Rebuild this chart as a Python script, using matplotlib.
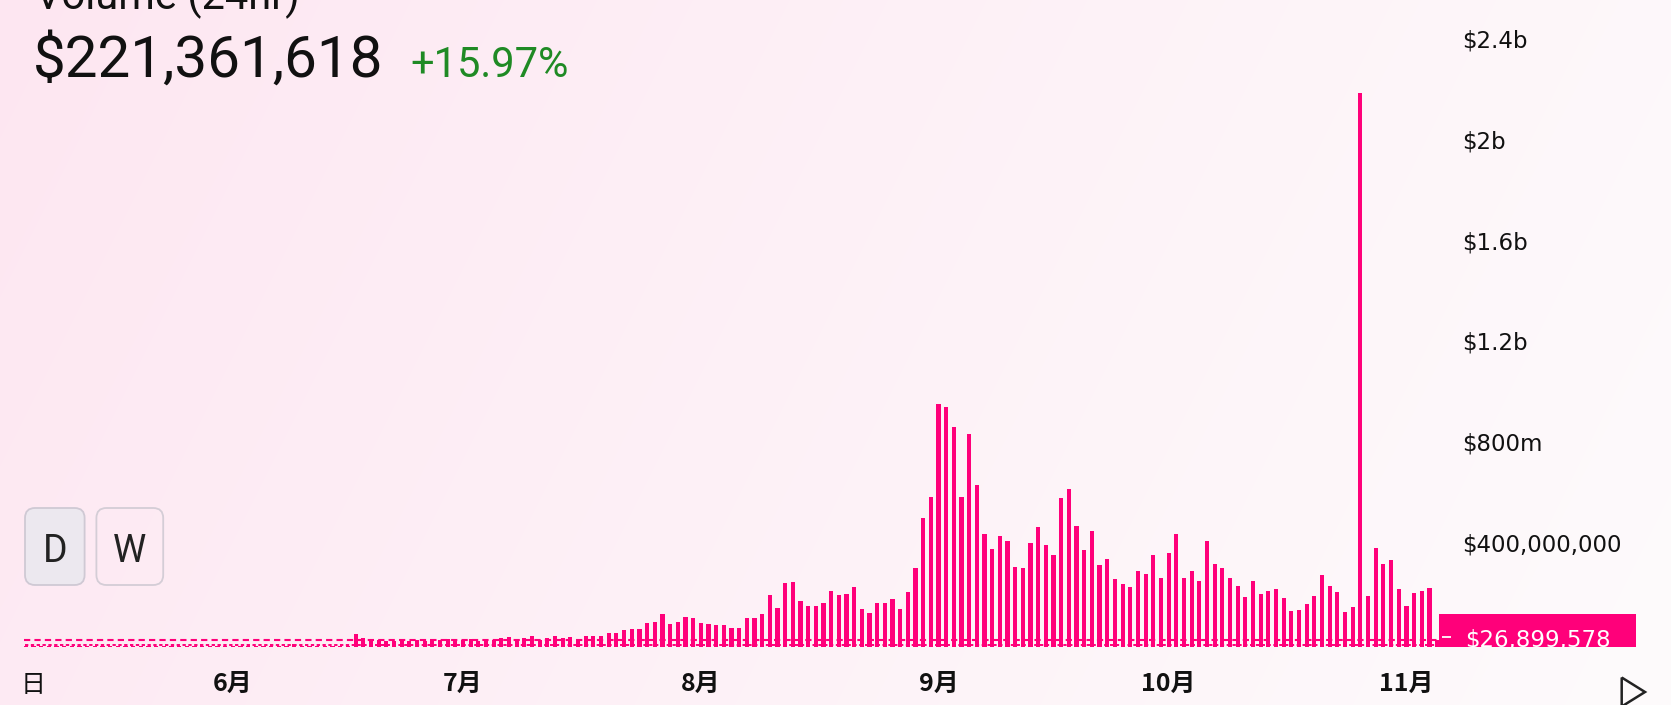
import numpy as np
import pandas as pd
import matplotlib
matplotlib.use("Agg")
import matplotlib.pyplot as plt
import matplotlib.dates as mdates
import matplotlib.transforms as mtransforms
from matplotlib.patches import FancyBboxPatch, Rectangle, Polygon

# ---------------- data (values in millions of USD) ----------------
start_date = "2023-05-05"
vol_may05_jun16 = [3, 2, 3, 3, 2, 3, 2, 3, 2, 3, 3, 2, 3, 3, 2, 3, 2, 3, 3, 2,
                   3, 2, 3, 3, 2, 3, 2,
                   3, 2, 3, 3, 2, 3, 2, 3, 8, 3, 2, 3, 3, 2, 3, 3]
vol_jun17_jul10 = [50, 33, 22, 25, 20, 22, 28, 20, 24, 22, 28, 25, 30, 22,
                   25, 28, 22, 30, 26, 32, 38, 30, 35, 40]
vol_jul11_jul31 = [26, 32, 42, 35, 38, 28, 43, 43, 43, 52, 52, 65, 68, 68,
                   92, 98, 129, 90, 98, 118, 114]
vol_aug = [94, 88, 84, 84, 72, 72, 114, 114, 129, 204, 154, 251, 255, 181,
           161, 161, 174, 220, 206, 210, 235, 149, 134, 174, 174, 190, 150,
           216, 310, 511, 595]
vol_sep = [963, 950, 873, 592, 843, 642, 447, 388, 439, 418, 317, 312, 413,
           474, 405, 365, 590, 626, 479, 384, 459, 324, 348, 267, 249, 238,
           298, 288, 364, 272]
vol_oct = [373, 448, 272, 298, 259, 419, 329, 313, 272, 242, 197, 262, 208,
           222, 228, 192, 142, 147, 167, 202, 283, 242, 217, 138, 157, 2198,
           202, 393, 329, 343, 228]
vol_nov = [161, 213, 220, 231, 26.899578]

current_value = 26.899578
current_label = "$26,899,578"
headline_value = "$221,361,618"
headline_change = "+15.97%"
title_text = "Volume (24hr)"

ytick_values = [400, 800, 1200, 1600, 2000, 2400]
ytick_labels = ["$400,000,000", "$800m", "$1.2b", "$1.6b", "$2b", "$2.4b"]

xtick_dates = ["2023-05-06", "2023-06-01", "2023-07-01", "2023-08-01",
               "2023-09-01", "2023-10-01", "2023-11-01"]
xtick_labels = ["日", "6月", "7月", "8月", "9月", "10月", "11月"]

volumes = (vol_may05_jun16 + vol_jun17_jul10 + vol_jul11_jul31 + vol_aug
           + vol_sep + vol_oct + vol_nov)
dates = pd.date_range(start_date, periods=len(volumes), freq="D")

# ---------------- style ----------------
W, H, DPI = 1671, 705, 100
PINK = "#FF007A"
PX_PER_DAY = 7.67
FIRST_BAR_PX = 25.8
ZERO_PX = 646.5           # y pixel (from top) of value 0
PX_PER_M = 0.2517         # pixels per million

fig = plt.figure(figsize=(W / DPI, H / DPI), dpi=DPI)

# background gradient
bg = fig.add_axes([0, 0, 1, 1], zorder=0)
yy, xx = np.mgrid[0:H, 0:W]
t = np.clip((xx + 0.5 * yy) / (W + 0.5 * H), 0, 1) ** 0.9
c0 = np.array([253, 230, 241]) / 255.0
c1 = np.array([254, 251, 252]) / 255.0
img = c0[None, None, :] * (1 - t[..., None]) + c1[None, None, :] * t[..., None]
bg.imshow(img, extent=[0, W, H, 0], aspect="auto", interpolation="bilinear")
bg.set_xlim(0, W)
bg.set_ylim(H, 0)
bg.axis("off")

# main chart axes
axes_right_px = 1450
ax = fig.add_axes([0, (H - ZERO_PX) / H, axes_right_px / W, ZERO_PX / H], zorder=1)
ax.patch.set_alpha(0)

xnum = mdates.date2num(dates)
ax.bar(xnum, volumes, width=0.55, color=PINK, linewidth=0, zorder=2)

# current value dashed line
ax.hlines(current_value, xnum[0] - 0.25, xnum[-1] + 0.5, colors=PINK,
          linewidth=1.5, linestyles=(0, (3, 2)), zorder=3)
# baseline dashed line
ax.hlines(5, xnum[0] - 0.1, xnum[-1] + 0.2, colors=PINK,
          linewidth=1.4, linestyles=(0, (1.7, 1.3)), zorder=3)

ax.set_xlim(xnum[0] - FIRST_BAR_PX / PX_PER_DAY,
            xnum[0] + (axes_right_px - FIRST_BAR_PX) / PX_PER_DAY)
ax.set_ylim(0, ZERO_PX / PX_PER_M)

for s in ax.spines.values():
    s.set_visible(False)

ax.yaxis.tick_right()
ax.set_yticks(ytick_values, ytick_labels)
ax.tick_params(axis="y", length=0, pad=12 * 72 / DPI, labelsize=16.5,
               labelcolor="#111111")
shift_up = mtransforms.ScaledTranslation(0, 3.5 / DPI, fig.dpi_scale_trans)
for tick in ax.yaxis.get_major_ticks():
    tick.label2.set_fontfamily("DejaVu Sans")
    tick.label2.set_transform(tick.label2.get_transform() + shift_up)

ax.set_xticks(mdates.date2num(pd.to_datetime(xtick_dates)), xtick_labels)
ax.tick_params(axis="x", length=0, pad=18.5, labelsize=18, labelcolor="#111111")
for i, lab in enumerate(ax.get_xticklabels()):
    lab.set_fontfamily(["Noto Sans CJK JP", "DejaVu Sans"])
    lab.set_fontweight("normal" if i == 0 else "bold")

# overlay for decorations (pixel coordinates, y downwards)
ov = fig.add_axes([0, 0, 1, 1], zorder=3)
ov.set_xlim(0, W)
ov.set_ylim(H, 0)
ov.axis("off")
ov.patch.set_alpha(0)

# current-value label box
box = Rectangle((1439, 614), 197, 33, facecolor=PINK, edgecolor="none", zorder=4)
ov.add_patch(box)
ov.plot([1442, 1451], [637, 637], color="white", lw=1.3, zorder=5, solid_capstyle="butt")
tr = mtransforms.blended_transform_factory(ov.transData, ax.transData)
txt = ov.text(1465, current_value, current_label, transform=tr, color="white",
              fontsize=16.5, family="DejaVu Sans", ha="left", va="center",
              zorder=6)
txt.set_clip_box(mtransforms.TransformedBbox(
    mtransforms.Bbox([[1439, H - 647], [1636, H - 614]]),
    mtransforms.IdentityTransform()))
txt.set_clip_on(True)

# header texts
ov.text(35, 9, title_text, fontsize=30, family="Roboto", color="#111111",
        ha="left", va="baseline")
ov.text(33, 77, headline_value, fontsize=42, family="Roboto", color="#111111",
        ha="left", va="baseline")
ov.text(410, 77, headline_change, fontsize=30, family="Roboto", color="#1f8a24",
        ha="left", va="baseline")

# D / W buttons
btnD = FancyBboxPatch((25, 508), 59.6, 77, boxstyle="round,pad=0,rounding_size=10",
                      facecolor="#ece8ef", edgecolor="#cfc9d4", lw=1.3, zorder=4)
btnW = FancyBboxPatch((96.4, 508), 66.8, 77, boxstyle="round,pad=0,rounding_size=10",
                      facecolor="none", edgecolor="#d4cdd6", lw=1.3, zorder=4)
ov.add_patch(btnD)
ov.add_patch(btnW)
ov.text(54.8, 562, "D", fontsize=27, family="Roboto", color="#222222",
        ha="center", va="baseline", zorder=5)
ov.text(129.8, 562, "W", fontsize=27, family="Roboto", color="#222222",
        ha="center", va="baseline", zorder=5)

# play triangle
tri = Polygon([(1621.7, 677.5), (1645, 692), (1621.7, 706.5)], closed=True,
              fill=False, edgecolor="#222222", lw=1.8, joinstyle="miter", zorder=5)
ov.add_patch(tri)

fig.savefig("out.png", dpi=DPI)
